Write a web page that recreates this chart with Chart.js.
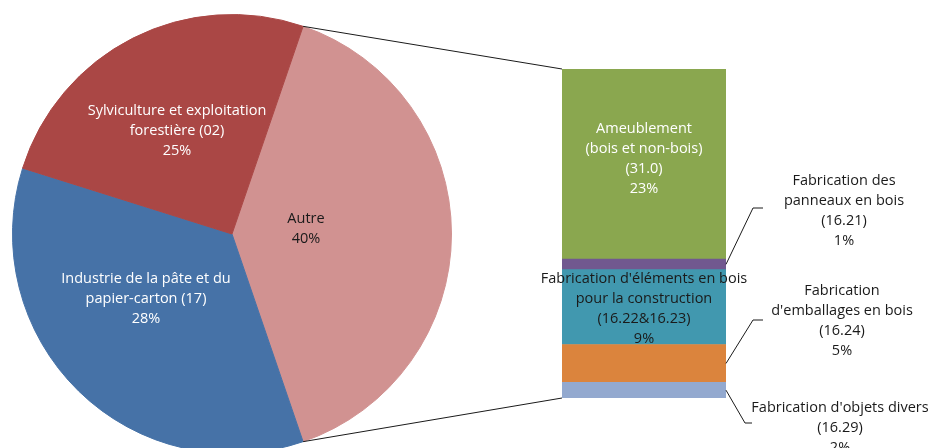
<!DOCTYPE html>
<html lang="fr">
<head>
<meta charset="UTF-8">
<title>Répartition des activités</title>
<script src="https://cdn.jsdelivr.net/npm/chart.js"></script>
<style>
  html, body { margin: 0; padding: 0; background: #fff; overflow: hidden; }
  #wrap { position: relative; width: 929px; height: 448px; overflow: hidden; }
  #pie, #bar { position: absolute; left: 0; top: 0; }
</style>
</head>
<body>
<div id="wrap">
  <canvas id="pie" width="464" height="468"></canvas>
  <canvas id="bar" width="929" height="448"></canvas>
</div>
<script>
// Camembert (sens horaire, depuis "Autre")
const pieLabels = [
  ['Autre'],
  ['Industrie de la pâte et du', 'papier-carton (17)'],
  ['Sylviculture et exploitation', 'forestière (02)']
];
const pieValues = [39.5, 35.1, 25.4];
const piePct = ['40%', '28%', '25%'];
const pieColors = ['#d19291', '#4672a7', '#aa4745'];

// Barre de détail de "Autre" (du bas vers le haut)
const barLabels = [
  ["Fabrication d'objets divers", '(16.29)'],
  ["Fabrication", "d'emballages en bois", '(16.24)'],
  ["Fabrication d'éléments en bois", 'pour la construction', '(16.22&16.23)'],
  ['Fabrication des', 'panneaux en bois', '(16.21)'],
  ['Ameublement', '(bois et non-bois)', '(31.0)']
];
const barValues = [1.9, 4.6, 9.1, 1.3, 23.1];
const barPct = ['2%', '5%', '9%', '1%', '23%'];
const barColors = ['#93a9cf', '#db843d', '#4198af', '#71588f', '#8aa74f'];

const FONT = '14.5px "Open Sans", sans-serif';
const LINE = 20;

function drawLines(ctx, lines, cx, cy, color) {
  ctx.save();
  ctx.font = FONT;
  ctx.fillStyle = color;
  ctx.textAlign = 'center';
  ctx.textBaseline = 'middle';
  lines.forEach((t, k) => {
    ctx.fillText(t, cx, cy + (k - (lines.length - 1) / 2) * LINE);
  });
  ctx.restore();
}

// position des étiquettes du camembert, relative au centre
const pieLabelOffsets = [[74, -5, '#1a1a1a'], [-86, 65, '#fff'], [-55, -103, '#fff']];

const pieLabelPlugin = {
  id: 'pieLabels',
  afterDatasetsDraw(chart) {
    const ctx = chart.ctx;
    chart.getDatasetMeta(0).data.forEach((arc, i) => {
      const o = pieLabelOffsets[i];
      drawLines(ctx, pieLabels[i].concat(piePct[i]), arc.x + o[0], arc.y + o[1], o[2]);
    });
  }
};

const pieChart = new Chart(document.getElementById('pie'), {
  type: 'pie',
  data: {
    labels: pieLabels.map(l => l.join(' ')),
    datasets: [{
      data: pieValues,
      backgroundColor: pieColors,
      borderColor: pieColors,
      borderWidth: 1
    }]
  },
  options: {
    responsive: false,
    animation: false,
    rotation: 18.9,
    layout: { padding: 12 },
    plugins: { legend: { display: false }, tooltip: { enabled: false } }
  },
  plugins: [pieLabelPlugin]
});

// étiquettes : dans la barre (dy) ou avec ligne de rappel
const barLabelLayout = [
  { cx: 840, cy: 428, ex: 745, ey: 423, hx: 752 },
  { cx: 842, cy: 321, ex: 753, ey: 320, hx: 763 },
  { inside: true, dy: 2, color: '#1a1a1a' },
  { cx: 844, cy: 211, ex: 753, ey: 208, hx: 763 },
  { inside: true, dy: -5, color: '#fff' }
];

const barLabelPlugin = {
  id: 'barLabels',
  afterDatasetsDraw(chart) {
    const ctx = chart.ctx;
    const area = chart.chartArea;

    // lignes de liaison camembert -> barre
    const arc = pieChart.getDatasetMeta(0).data[0];
    const R = arc.outerRadius;
    ctx.save();
    ctx.strokeStyle = '#1a1a1a';
    ctx.lineWidth = 1;
    ctx.beginPath();
    ctx.moveTo(arc.x + R * Math.cos(arc.startAngle), arc.y + R * Math.sin(arc.startAngle));
    ctx.lineTo(area.left, area.top);
    ctx.moveTo(arc.x + R * Math.cos(arc.endAngle), arc.y + R * Math.sin(arc.endAngle));
    ctx.lineTo(area.left, area.bottom);
    ctx.stroke();
    ctx.restore();

    barValues.forEach((v, i) => {
      const el = chart.getDatasetMeta(i).data[0];
      const lay = barLabelLayout[i];
      const lines = barLabels[i].concat(barPct[i]);
      const midY = (el.y + el.base) / 2;
      if (lay.inside) {
        drawLines(ctx, lines, el.x, midY + lay.dy, lay.color);
      } else {
        ctx.save();
        ctx.strokeStyle = '#1a1a1a';
        ctx.lineWidth = 1;
        ctx.beginPath();
        ctx.moveTo(el.x + el.width / 2, midY);
        ctx.lineTo(lay.ex, lay.ey);
        ctx.lineTo(lay.hx, lay.ey);
        ctx.stroke();
        ctx.restore();
        drawLines(ctx, lines, lay.cx, lay.cy, '#1a1a1a');
      }
    });
  }
};

new Chart(document.getElementById('bar'), {
  type: 'bar',
  data: {
    labels: ['Autre'],
    datasets: barValues.map((v, i) => ({
      label: barLabels[i].join(' '),
      data: [v],
      backgroundColor: barColors[i],
      borderWidth: 0,
      barPercentage: 1,
      categoryPercentage: 1
    }))
  },
  options: {
    responsive: false,
    animation: false,
    layout: { padding: { left: 562, right: 203, top: 69, bottom: 50 } },
    scales: {
      x: { stacked: true, display: false },
      y: { stacked: true, display: false, min: 0, max: barValues.reduce((a, b) => a + b, 0) }
    },
    plugins: { legend: { display: false }, tooltip: { enabled: false } }
  },
  plugins: [barLabelPlugin]
});
</script>
</body>
</html>
